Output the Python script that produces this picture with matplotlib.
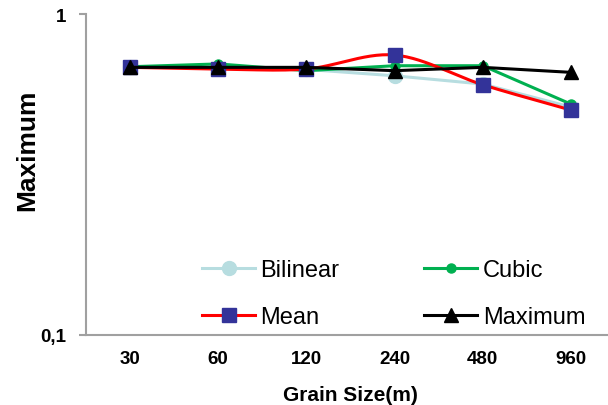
import numpy as np
import matplotlib.pyplot as plt
from matplotlib.ticker import FixedLocator, FixedFormatter, NullLocator

plt.rcParams['font.family'] = ['Liberation Sans', 'DejaVu Sans']

# grain sizes (m) and the maximum value per resampling method
grain_sizes = ['30', '60', '120', '240', '480', '960']
bilinear = [0.684, 0.680, 0.672, 0.642, 0.605, 0.513]
cubic = [0.685, 0.699, 0.666, 0.690, 0.690, 0.524]
mean = [0.682, 0.674, 0.674, 0.745, 0.602, 0.502]
maximum = [0.682, 0.682, 0.682, 0.666, 0.682, 0.658]

y_ticks = [0.1, 1]
y_tick_labels = ['0,1', '1']


def smooth_curve(x, y, steps=30):
    # Catmull-Rom spline through the points, done in log space for the log axis
    x = np.asarray(x, float)
    ly = np.log10(y)
    px = np.concatenate([[2 * x[0] - x[1]], x, [2 * x[-1] - x[-2]]])
    py = np.concatenate([[2 * ly[0] - ly[1]], ly, [2 * ly[-1] - ly[-2]]])
    xs, ys = [], []
    for i in range(1, len(px) - 2):
        t = np.linspace(0, 1, steps)
        for p, out in ((px, xs), (py, ys)):
            p0, p1, p2, p3 = p[i - 1], p[i], p[i + 1], p[i + 2]
            out.extend(0.5 * ((2 * p1) + (-p0 + p2) * t
                              + (2 * p0 - 5 * p1 + 4 * p2 - p3) * t ** 2
                              + (-p0 + 3 * p1 - 3 * p2 + p3) * t ** 3))
    return np.array(xs), 10 ** np.array(ys)


fig = plt.figure(figsize=(6.08, 4.06), dpi=100)
ax = fig.add_axes([86 / 608, 70 / 406, 529 / 608, 321 / 406])

x = np.arange(len(grain_sizes))

ax.plot(x, bilinear, color='#b7dde0', linewidth=2.2, marker='o',
        markersize=10, markerfacecolor='#b7dde0', markeredgecolor='#b7dde0',
        label='Bilinear')
ax.plot(x, cubic, color='#00b050', linewidth=2.2, marker='o',
        markersize=6.5, markerfacecolor='#00b050', markeredgecolor='#00b050',
        label='Cubic')
sx, sy = smooth_curve(x, mean)
ax.plot(sx, sy, color='#ff0000', linewidth=2.2)
ax.plot(x, mean, linestyle='none', marker='s', markersize=10.5,
        markerfacecolor='#333399', markeredgecolor='#333399')
ax.plot(x, maximum, color='black', linewidth=2.2, marker='^',
        markersize=10, markerfacecolor='black', markeredgecolor='black',
        label='Maximum')

ax.set_yscale('log')
ax.set_ylim(0.1, 1)
ax.set_xlim(-0.5, len(grain_sizes) - 0.5)
ax.yaxis.set_major_locator(FixedLocator(y_ticks))
ax.yaxis.set_major_formatter(FixedFormatter(y_tick_labels))
ax.yaxis.set_minor_locator(NullLocator())
ax.set_xticks(x)
ax.set_xticklabels(grain_sizes)

for side in ('top', 'right'):
    ax.spines[side].set_visible(False)
for side in ('left', 'bottom'):
    ax.spines[side].set_color('#a0a0a0')
    ax.spines[side].set_linewidth(1.5)

ax.tick_params(axis='y', which='major', length=5, width=1.5, color='#a0a0a0',
               direction='out', pad=9, labelsize=13.5)
ax.tick_params(axis='x', length=0, pad=11, labelsize=13.5)
for lbl in ax.get_xticklabels() + ax.get_yticklabels():
    lbl.set_fontweight('bold')

ax.set_xlabel('Grain Size(m)', fontsize=15, fontweight='bold', labelpad=13)
fig.text(27 / 608, 1 - 150 / 406, 'Maximum', rotation=90, fontsize=19,
         fontweight='bold', ha='center', va='center')

# legend handles; the Mean entry pairs the red line with the navy square
mean_handle = plt.Line2D([], [], color='#ff0000', linewidth=2.2, marker='s',
                         markersize=10.5, markerfacecolor='#333399',
                         markeredgecolor='#333399')
handles, labels = ax.get_legend_handles_labels()
order = [handles[0], mean_handle, handles[1], handles[2]]
names = ['Bilinear', 'Mean', 'Cubic', 'Maximum']
ax.legend(order, names, ncol=2, frameon=False, fontsize=17,
          loc='upper left', bbox_to_anchor=(202 / 608, 1 - 260 / 406),
          bbox_transform=fig.transFigure, borderpad=0, borderaxespad=0,
          handlelength=2.25, handletextpad=0.22, labelspacing=1.08,
          columnspacing=3.6)

fig.savefig('out.png', dpi=100)
